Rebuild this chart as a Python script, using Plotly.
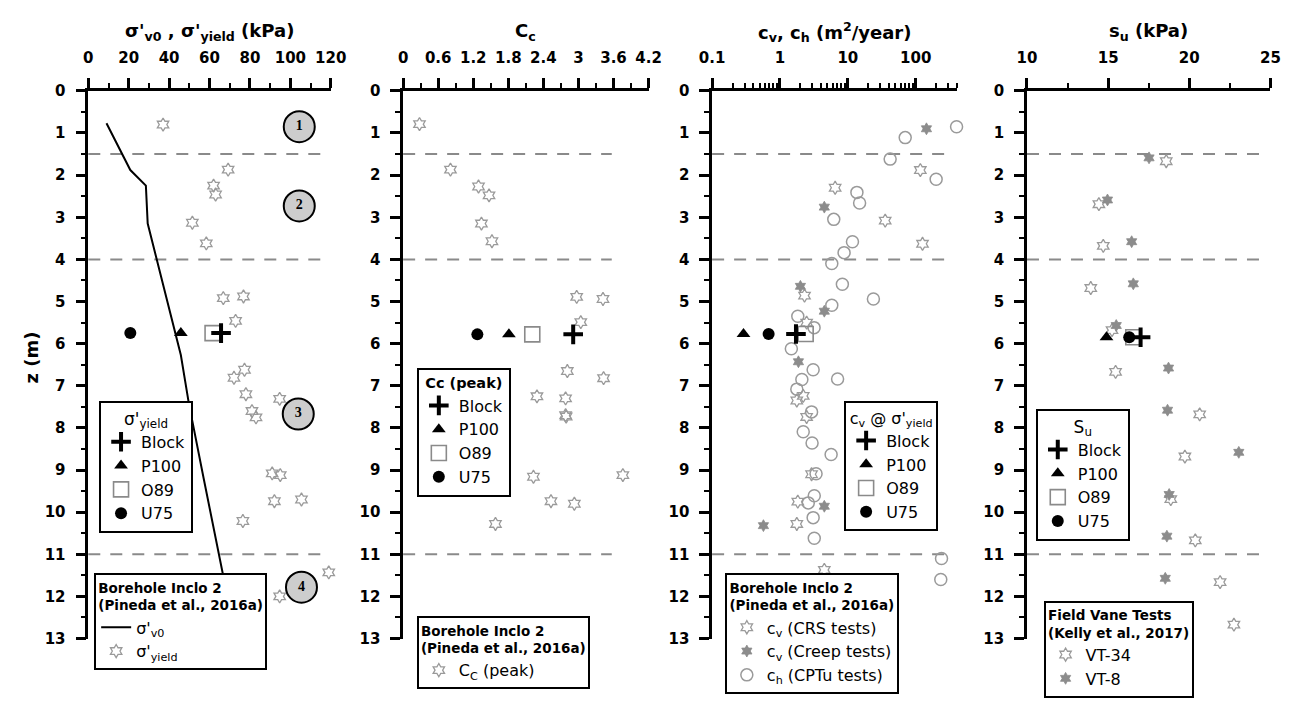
import math
import plotly.graph_objects as go

W, H = 1306, 707
FONT = "DejaVu Sans"

# ---------------- data ----------------
# Panel 1: sigma'v0 and sigma'yield (kPa) vs depth z (m)
sv0_kpa = [9.0, 20.8, 28.5, 29.4, 45.8, 49.8, 57.1, 66.8, 73.0]
sv0_z = [0.77, 1.88, 2.25, 3.15, 6.27, 7.43, 9.2, 11.5, 13.0]
syield_kpa = [37, 69.2, 62, 63, 51.5, 58.4, 66.8, 76.8, 72.9, 72.1, 77.3, 78.0, 81, 83,
              94.7, 91, 95, 92.1, 105.5, 76.5, 119, 94.7]
syield_z = [0.8, 1.87, 2.25, 2.46, 3.13, 3.62, 4.92, 4.88, 5.46, 6.81, 6.62, 7.2, 7.6, 7.75,
            7.31, 9.08, 9.12, 9.74, 9.7, 10.21, 11.43, 12.0]
unit_labels = ["1", "2", "3", "4"]
unit_label_kpa = [104.4, 104.4, 103.9, 105.5]
unit_label_z = [0.85, 2.73, 7.67, 11.78]

# Panel 2: Cc (peak)
cc_vals = [0.28, 0.81, 1.29, 1.47, 1.34, 1.52, 2.97, 3.42, 3.04, 2.81, 3.43, 2.29, 2.78,
           2.79, 2.78, 2.23, 3.76, 2.53, 2.93, 1.58]
cc_z = [0.79, 1.87, 2.27, 2.48, 3.15, 3.57, 4.89, 4.94, 5.49, 6.65, 6.82, 7.25, 7.30,
        7.73, 7.70, 9.16, 9.12, 9.74, 9.80, 10.28]

# Panel 3: cv, ch (m2/year)
cv_crs = [117, 6.5, 35.5, 126, 2.3, 2.47, 2.2, 1.77, 2.47, 2.92, 1.83, 1.77, 4.5]
cv_crs_z = [1.88, 2.30, 3.08, 3.63, 4.86, 5.5, 7.24, 7.35, 7.74, 9.10, 9.75, 10.28, 11.37]
cv_creep = [144, 4.5, 2.0, 4.5, 1.87, 4.5, 0.57]
cv_creep_z = [0.9, 2.76, 4.64, 5.23, 6.43, 9.86, 10.32]
ch_cptu = [400, 70, 42, 200, 13.6, 14.9, 6.2, 11.7, 8.8, 5.8, 8.3, 23.8, 5.8, 1.83, 3.18,
           1.47, 3.08, 7.06, 2.1, 1.77, 2.92, 2.2, 2.97, 5.67, 3.4, 3.2, 2.61, 3.08, 3.2,
           240, 234]
ch_cptu_z = [0.85, 1.11, 1.62, 2.1, 2.41, 2.66, 3.05, 3.58, 3.84, 4.10, 4.59, 4.94, 5.09,
             5.35, 5.62, 6.12, 6.62, 6.84, 6.85, 7.08, 7.62, 8.09, 8.36, 8.63, 9.09, 9.61,
             9.78, 10.13, 10.62, 11.1, 11.6]

# Panel 4: su (kPa), field vane tests
vt34_su = [18.58, 14.43, 14.7, 13.93, 15.24, 15.46, 20.64, 19.73, 18.86, 20.37, 21.9, 22.75]
vt34_z = [1.67, 2.69, 3.68, 4.68, 5.68, 6.67, 7.68, 8.68, 9.69, 10.67, 11.66, 12.67]
vt8_su = [17.52, 14.96, 16.45, 16.55, 15.5, 18.72, 18.66, 23.05, 18.76, 18.62, 18.52]
vt8_z = [1.59, 2.59, 3.58, 4.58, 5.57, 6.58, 7.58, 8.58, 9.58, 10.57, 11.57]

# Laboratory samples (Block, P100, O89, U75)
lab_methods = ["Block", "P100", "O89", "U75"]
sy_lab = [65.7, 45.8, 61.5, 20.8]
sy_lab_z = 5.75
cc_lab = [2.91, 1.81, 2.21, 1.27]
cc_lab_z = 5.78
cv_lab = [1.72, 0.29, 2.39, 0.68]
cv_lab_z = 5.77
su_lab = [17.0, 14.9, 16.55, 16.3]
su_lab_z = 5.85

# Unit boundaries (m)
boundaries_z = [1.5, 4.0, 11.0]

# ---------------- styles ----------------
GREY = "#9a9a9a"
lab_style = {
    "Block": dict(symbol="cross-thin-open", size=14, color="black", line=dict(color="black", width=4)),
    "P100": dict(symbol="triangle-up", size=12, color="black", line=dict(width=0)),
    "O89": dict(symbol="square-open", size=15, color="#8a8a8a", line=dict(color="#8a8a8a", width=1.6)),
    "U75": dict(symbol="circle", size=12, color="black", line=dict(width=0)),
}
draw_order = ["O89", "U75", "P100", "Block"]
legend_rank = {"Block": 1, "P100": 2, "O89": 3, "U75": 4}

hexo = dict(symbol="hexagram-open", size=10, color=GREY, line=dict(color=GREY, width=1.3))
starf = dict(symbol="hexagram", size=9, color="#8c8c8c", line=dict(color="#8c8c8c", width=0.8))
circo = dict(symbol="circle-open", size=12, color=GREY, line=dict(color=GREY, width=1.5))

fig = go.Figure()

def ax(i):
    return ("x" if i == 1 else f"x{i}"), ("y" if i == 1 else f"y{i}")

def add_lab(i, vals, z, legend):
    xa, ya = ax(i)
    for m in draw_order:
        v = vals[lab_methods.index(m)]
        st = lab_style[m]
        fig.add_trace(go.Scatter(x=[v], y=[z], mode="markers", name=m, xaxis=xa, yaxis=ya,
                                 marker=st, legend=legend, legendrank=legend_rank[m],
                                 cliponaxis=False))

# Panel 1
fig.add_trace(go.Scatter(x=sv0_kpa, y=sv0_z, mode="lines", name="σ'<sub>v0</sub>",
                         line=dict(color="black", width=2), xaxis="x", yaxis="y",
                         legend="legend2", legendrank=1))
fig.add_trace(go.Scatter(x=syield_kpa, y=syield_z, mode="markers", name="σ'<sub>yield</sub>",
                         marker=hexo, xaxis="x", yaxis="y", legend="legend2", legendrank=2,
                         cliponaxis=False))
fig.add_trace(go.Scatter(x=unit_label_kpa, y=unit_label_z, mode="markers+text", text=unit_labels,
                         textposition="middle center",
                         textfont=dict(family="Liberation Serif", size=14, color="black", weight="bold"),
                         marker=dict(symbol="circle", size=31, color="#cdcdcd",
                                     line=dict(color="black", width=2)),
                         xaxis="x", yaxis="y", showlegend=False, cliponaxis=False))
add_lab(1, sy_lab, sy_lab_z, "legend")

# Panel 2
fig.add_trace(go.Scatter(x=cc_vals, y=cc_z, mode="markers", name="C<sub>C</sub> (peak)",
                         marker=hexo, xaxis="x2", yaxis="y2", legend="legend4"))
add_lab(2, cc_lab, cc_lab_z, "legend3")

# Panel 3
fig.add_trace(go.Scatter(x=ch_cptu, y=ch_cptu_z, mode="markers", name="c<sub>h</sub> (CPTu tests)",
                         marker=circo, xaxis="x3", yaxis="y3", legend="legend6", legendrank=3,
                         cliponaxis=False))
fig.add_trace(go.Scatter(x=cv_crs, y=cv_crs_z, mode="markers", name="c<sub>v</sub> (CRS tests)",
                         marker=hexo, xaxis="x3", yaxis="y3", legend="legend6", legendrank=1))
fig.add_trace(go.Scatter(x=cv_creep, y=cv_creep_z, mode="markers", name="c<sub>v</sub> (Creep tests)",
                         marker=starf, xaxis="x3", yaxis="y3", legend="legend6", legendrank=2))
add_lab(3, cv_lab, cv_lab_z, "legend5")

# Panel 4
fig.add_trace(go.Scatter(x=vt34_su, y=vt34_z, mode="markers", name="VT-34",
                         marker=hexo, xaxis="x4", yaxis="y4", legend="legend8", legendrank=1))
fig.add_trace(go.Scatter(x=vt8_su, y=vt8_z, mode="markers", name="VT-8",
                         marker=starf, xaxis="x4", yaxis="y4", legend="legend8", legendrank=2))
add_lab(4, su_lab, su_lab_z, "legend7")

# ---------------- axes ----------------
ydom = [1 - 646 / H, 1 - 84 / H]
xdoms = [[77 / W, 325 / W], [399 / W, 650 / W], [715 / W, 965 / W], [1037 / W, 1286 / W]]
tickfont = dict(family=FONT, size=15, color="black", weight="bold")
common = dict(showline=True, linecolor="black", linewidth=2.5, ticks="outside", ticklen=10,
              tickwidth=2.5, tickcolor="black", showgrid=False, zeroline=False,
              tickfont=tickfont)
minor_common = dict(ticks="outside", ticklen=5, tickwidth=2, tickcolor="black", showgrid=False)

xspecs = [
    dict(range=[0, 120], dtick=20, tick0=0, minor=dict(dtick=10, **minor_common)),
    dict(range=[0, 4.2], dtick=0.6, tick0=0, minor=dict(dtick=0.3, **minor_common)),
    dict(type="log", range=[-1, math.log10(400)], tickmode="array",
         tickvals=[0.1, 1, 10, 100], ticktext=["0.1", "1", "10", "100"],
         minor=dict(tickmode="array",
                    tickvals=[k * 10 ** e for e in (-1, 0, 1) for k in range(2, 10)] + [200, 300, 400],
                    **minor_common)),
    dict(range=[10, 25], dtick=5, tick0=10, minor=dict(dtick=2.5, **minor_common)),
]
layout_axes = {}
for i in range(1, 5):
    xa, ya = ax(i)
    xname = "xaxis" if i == 1 else f"xaxis{i}"
    yname = "yaxis" if i == 1 else f"yaxis{i}"
    layout_axes[xname] = dict(domain=xdoms[i - 1], anchor=ya, side="top", ticklabelstandoff=9,
                              **common, **xspecs[i - 1])
    layout_axes[yname] = dict(domain=ydom, anchor=xa, range=[13, 0], dtick=1, tick0=0,
                              ticklabelstandoff=7,
                              minor=dict(dtick=0.5, **minor_common), **common)

# dashed unit boundaries
dash_frac = [0.96, 0.85, 0.95, 0.955]
shapes = []
for i in range(1, 5):
    xa, ya = ax(i)
    for z in boundaries_z:
        shapes.append(dict(type="line", xref=f"{xa} domain", x0=0, x1=dash_frac[i - 1],
                           yref=ya, y0=z, y1=z, layer="below",
                           line=dict(color="#8a8a8a", width=2, dash="12px,10px")))

# titles
titles = ["σ'<sub>v0</sub> , σ'<sub>yield</sub> (kPa)", "C<sub>c</sub>",
          "c<sub>v</sub>, c<sub>h</sub> (m<sup>2</sup>/year)", "s<sub>u</sub> (kPa)"]
annotations = []
for i, t in enumerate(titles, start=1):
    xa, ya = ax(i)
    annotations.append(dict(text=t, xref=f"{xa} domain", x=0.5, yref="paper", y=1 - 24 / H,
                            xanchor="center", yanchor="middle", showarrow=False,
                            font=dict(family=FONT, size=18, color="black", weight="bold")))
annotations.append(dict(text="z (m)", xref="paper", x=19 / W, yref="paper", y=1 - 358 / H,
                        textangle=-90, showarrow=False, xanchor="center", yanchor="middle",
                        font=dict(family=FONT, size=18, color="black", weight="bold")))

# legends
def leg(xpx, ypx, title, tsize=17, bold=False):
    return dict(x=xpx / W, y=1 - ypx / H, xanchor="left", yanchor="top", bgcolor="white",
                bordercolor="black", borderwidth=2, tracegroupgap=0, itemsizing="trace",
                font=dict(family=FONT, size=16, color="black"),
                title=dict(text=title, side="top center",
                           font=dict(family=FONT, size=tsize, color="black",
                                     weight="bold" if bold else "normal")))

bh = "Borehole Inclo 2<br>(Pineda et al., 2016a)"
legends = dict(
    legend=leg(88, 402, "σ'<sub>yield</sub>", 17),
    legend2=leg(83, 579, bh, 13.5, True),
    legend3=leg(413, 368, "Cc (peak)", 14.5, True),
    legend4=leg(413, 623, bh, 13.5, True),
    legend5=leg(850, 402, "c<sub>v</sub> @ σ'<sub>yield</sub>", 16),
    legend6=leg(728, 579, bh, 13.5, True),
    legend7=leg(1046, 410, "S<sub>u</sub>", 17),
    legend8=leg(1054, 607, "Field Vane Tests<br>(Kelly et al., 2017)", 13.5, True),
)

fig.update_layout(width=W, height=H, margin=dict(l=0, r=0, t=0, b=0),
                  paper_bgcolor="white", plot_bgcolor="white",
                  font=dict(family=FONT, color="black"),
                  shapes=shapes, annotations=annotations, **layout_axes, **legends)

fig.write_html("out.html")
